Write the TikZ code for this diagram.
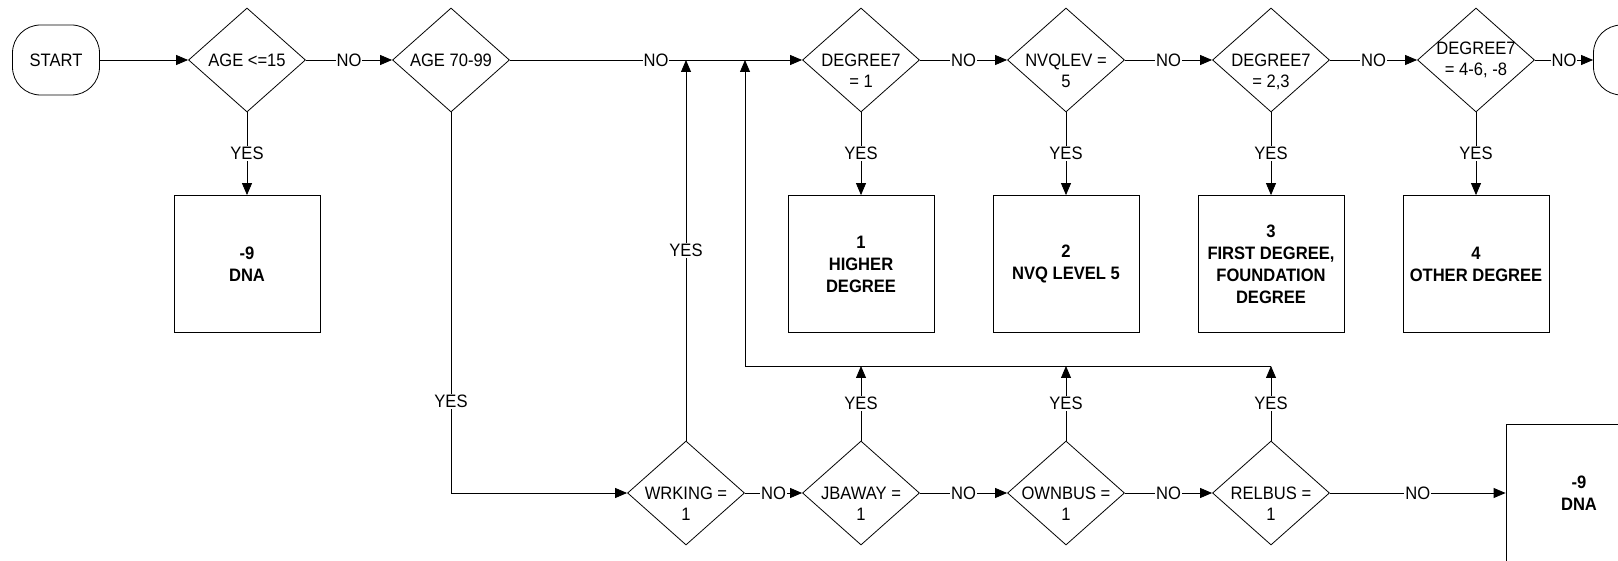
\documentclass[tikz,border=0pt]{standalone}
\usepackage{fontspec}
\setmainfont{Liberation Sans}[FakeStretch=0.92]
\usetikzlibrary{shapes.geometric, arrows.meta}

\begin{document}
\begin{tikzpicture}[x=1pt, y=-1pt, line width=0.8pt, font=\fontsize{18}{21}\selectfont]
  \tikzset{
    term_node/.style={draw, rounded corners=28pt, minimum width=87pt, minimum height=70pt, inner sep=0pt},
    dec_base/.style={diamond, draw, minimum width=117pt, minimum height=104pt, inner sep=-10pt, align=center},
    dec_node/.style={dec_base, text height=55pt, text depth=0pt},
    box_node/.style={draw, minimum width=146pt, minimum height=137pt, inner sep=0pt, align=center, font=\fontsize{18}{22}\selectfont\bfseries},
    lbl/.style={fill=white, inner sep=1pt},
    arr/.style={-{Triangle[length=12pt, width=10pt]}}
  }
  \useasboundingbox (0,0) rectangle (1618,561);

  % Fila superior
  \node[term_node] (start) at (56,60) {START};
  \node[dec_base] (age15) at (247,60) {AGE <=15};
  \node[dec_base] (age70) at (451,60) {AGE 70-99};
  \node[dec_node] (deg1) at (861,60) {DEGREE7\\= 1};
  \node[dec_node] (nvq) at (1066,60) {NVQLEV =\\5};
  \node[dec_node] (deg23) at (1271,60) {DEGREE7\\= 2,3};
  \node[dec_base] (deg46) at (1476,60) {DEGREE7\\= 4-6, -8};
  \node[term_node] (stop) at (1637,60) {};

  % Resultados
  \node[box_node] (dna1) at (247,264) {-9\\DNA};
  \node[box_node] (hdeg) at (861,264) {1\\HIGHER\\DEGREE};
  \node[box_node] (nvq5) at (1066,264) {2\\NVQ LEVEL 5};
  \node[box_node] (first) at (1271,264) {3\\FIRST DEGREE,\\FOUNDATION\\DEGREE};
  \node[box_node] (other) at (1476,264) {4\\OTHER DEGREE};

  % Fila inferior
  \node[dec_node] (wrking) at (686,493) {WRKING =\\1};
  \node[dec_node] (jbaway) at (861,493) {JBAWAY =\\1};
  \node[dec_node] (ownbus) at (1066,493) {OWNBUS =\\1};
  \node[dec_node] (relbus) at (1271,493) {RELBUS =\\1};
  \node[box_node] (dna2) at (1579,493) {-9\\DNA};
  \coordinate (loop) at (745,366);

  % Conexiones de la fila superior
  \draw[arr] (start) -- (age15);
  \draw[arr] (age15) -- node[lbl]{NO} (age70);
  \draw[arr] (age70) -- node[lbl]{NO} (deg1);
  \draw[arr] (deg1) -- node[lbl]{NO} (nvq);
  \draw[arr] (nvq) -- node[lbl]{NO} (deg23);
  \draw[arr] (deg23) -- node[lbl]{NO} (deg46);
  \draw[arr] (deg46) -- node[lbl]{NO} (stop);

  % Respuestas YES hacia las cajas
  \draw[arr] (age15) -- node[lbl]{YES} (dna1);
  \draw[arr] (deg1) -- node[lbl]{YES} (hdeg);
  \draw[arr] (nvq) -- node[lbl]{YES} (nvq5);
  \draw[arr] (deg23) -- node[lbl]{YES} (first);
  \draw[arr] (deg46) -- node[lbl]{YES} (other);

  % Conexiones de la fila inferior
  \draw[arr] (age70.south) |- node[lbl, pos=0.38]{YES} (wrking.west);
  \draw[arr] (wrking.north) -- node[lbl]{YES} (wrking.north |- age70.east);
  \draw[arr] (wrking) -- node[lbl]{NO} (jbaway);
  \draw[arr] (jbaway) -- node[lbl]{NO} (ownbus);
  \draw[arr] (ownbus) -- node[lbl]{NO} (relbus);
  \draw[arr] (relbus) -- node[lbl]{NO} (dna2);

  % Retorno a DEGREE7
  \draw[arr] (jbaway.north) -- node[lbl]{YES} (jbaway.north |- loop);
  \draw[arr] (ownbus.north) -- node[lbl]{YES} (ownbus.north |- loop);
  \draw[arr] (relbus.north) -- node[lbl]{YES} (relbus.north |- loop);
  \draw[arr] (relbus.north |- loop) -- (loop) -- (loop |- age70.east);
\end{tikzpicture}
\end{document}
